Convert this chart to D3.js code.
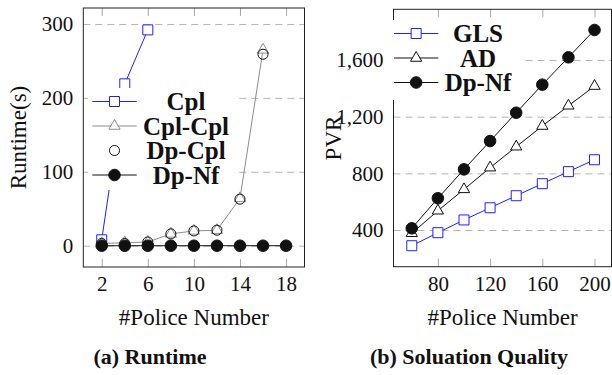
<!DOCTYPE html>
<html>
<head>
<meta charset="utf-8">
<script src="https://cdn.jsdelivr.net/npm/d3@7"></script>
<style>
  body { margin: 0; background: #fff; }
  svg { display: block; font-family: 'Liberation Serif', 'DejaVu Serif', serif; }
  .axis { font-family: 'Liberation Serif', 'DejaVu Serif', serif; }
  .axis .domain { display: none; }
  .axis text { font-size: 21px; fill: #111; }
  .axis-x line { stroke: #a8a8a8; }
  .axis-y line { stroke: #b4b4b4; stroke-dasharray: 7,5; }
  .label { font-size: 23px; fill: #111; }
  .caption { font-size: 22px; font-weight: bold; fill: #111; }
  .legend text { font-size: 25px; font-weight: bold; fill: #111; }
</style>
</head>
<body>
<svg id="chart" width="612" height="375"></svg>
<script>
// (a) runtime, seconds
const policeA = [2, 4, 6, 8, 10, 12, 14, 16, 18];
const cpl = [8, 219, 292];
const cplCpl = [3, 4, 5, 16, 20, 21, 64, 265];
const dpCpl = [3, 3, 5, 16, 20, 21, 63, 259];
const dpNfA = [0, 0, 0, 0, 0, 0, 0, 0, 0];
const xTicksA = [2, 6, 10, 14, 18];
const yTicksA = [0, 100, 200, 300];

// (b) solution quality, PVR
const policeB = [60, 80, 100, 120, 140, 160, 180, 200];
const gls = [289, 381, 471, 557, 642, 727, 812, 896];
const ad = [377, 536, 687, 840, 988, 1134, 1277, 1416];
const dpNfB = [412, 624, 828, 1028, 1228, 1426, 1619, 1812];
const xTicksB = [80, 120, 160, 200];
const yTicksB = [400, 800, 1200, 1600];

const BLUE = '#2020ff';
const GRAY = '#8c8c8c';
const INK = '#111';

const styles = {
  cpl: { stroke: BLUE, line: BLUE, symbol: d3.symbolSquare, size: 100, fill: '#fff' },
  cplCpl: { stroke: GRAY, line: GRAY, symbol: d3.symbolTriangle, size: 55, fill: '#fff' },
  dpCpl: { stroke: INK, line: null, symbol: d3.symbolCircle, size: 80, fill: 'none' },
  dpNf: { stroke: INK, line: INK, symbol: d3.symbolCircle, size: 105, fill: INK },
  ad: { stroke: INK, line: INK, symbol: d3.symbolTriangle, size: 55, fill: '#fff' }
};

const svg = d3.select('#chart');

function drawSeries(g, scales, xs, ys, st) {
  const pts = ys.map((v, i) => [scales.x(xs[i]), scales.y(v)]);
  if (st.line) {
    g.append('path')
      .attr('d', d3.line()(pts))
      .attr('fill', 'none')
      .attr('stroke', st.line)
      .attr('stroke-width', 1);
  }
  g.selectAll(null)
    .data(pts)
    .join('path')
    .attr('transform', d => `translate(${d[0]},${d[1]})`)
    .attr('d', d3.symbol(st.symbol, st.size))
    .attr('fill', st.fill)
    .attr('stroke', st.stroke)
    .attr('stroke-width', 1);
}

function drawPanel(cfg) {
  const g = svg.append('g');
  const x = d3.scaleLinear().domain(cfg.xDomain).range(cfg.xRange);
  const y = d3.scaleLinear().domain(cfg.yDomain).range(cfg.yRange);
  const [x0, x1] = cfg.xRange;
  const [yb, yt] = cfg.yRange;

  g.append('g')
    .attr('class', 'axis axis-y')
    .attr('transform', `translate(${x0},0)`)
    .call(d3.axisLeft(y).tickValues(cfg.yTicks).tickSize(-(x1 - x0)).tickPadding(10).tickFormat(d3.format(',')));

  g.append('g')
    .attr('class', 'axis axis-x')
    .attr('transform', `translate(0,${yb})`)
    .call(d3.axisBottom(x).tickValues(cfg.xTicks).tickSize(-8).tickPadding(9));

  g.append('g')
    .attr('class', 'axis axis-x')
    .attr('transform', `translate(0,${yt})`)
    .call(d3.axisTop(x).tickValues(cfg.xTicks).tickSize(-8).tickFormat(''));

  const scales = { x, y };
  cfg.series.forEach(s => drawSeries(g, scales, s.xs, s.ys, s.style));

  g.append('rect')
    .attr('x', x0).attr('y', yt)
    .attr('width', x1 - x0).attr('height', yb - yt)
    .attr('fill', 'none').attr('stroke', '#222').attr('stroke-width', 1);

  // legend, white box on top of the plot
  const lg = cfg.legend;
  const leg = g.append('g').attr('class', 'legend');
  leg.append('rect')
    .attr('x', lg.box[0]).attr('y', lg.box[1])
    .attr('width', lg.box[2]).attr('height', lg.box[3])
    .attr('fill', '#fff');
  cfg.series.forEach((s, i) => {
    const ry = lg.top + i * lg.step;
    const mid = (lg.lineX[0] + lg.lineX[1]) / 2;
    if (s.style.line) {
      leg.append('line')
        .attr('x1', lg.lineX[0]).attr('x2', lg.lineX[1])
        .attr('y1', ry).attr('y2', ry)
        .attr('stroke', s.style.line);
    }
    leg.append('path')
      .attr('transform', `translate(${mid},${ry})`)
      .attr('d', d3.symbol(s.style.symbol, s.style.size))
      .attr('fill', s.style.fill)
      .attr('stroke', s.style.stroke);
    leg.append('text')
      .attr('x', lg.textX).attr('y', ry)
      .attr('dy', '0.35em')
      .attr('text-anchor', 'middle')
      .text(s.name);
  });

  g.append('text')
    .attr('class', 'label')
    .attr('x', (x0 + x1) / 2).attr('y', 325)
    .attr('text-anchor', 'middle')
    .text('#Police Number');

  g.append('text')
    .attr('class', 'label')
    .attr('transform', `translate(${cfg.yLabelX},${(yb + yt) / 2}) rotate(-90)`)
    .attr('text-anchor', 'middle')
    .text(cfg.yLabel);

  g.append('text')
    .attr('class', 'caption')
    .attr('x', cfg.captionX).attr('y', 364)
    .attr('text-anchor', 'middle')
    .text(cfg.caption);
}

drawPanel({
  xDomain: [0.4, 19.6], xRange: [83.3, 304.5],
  yDomain: [-28.8, 321.6], yRange: [267, 8],
  xTicks: xTicksA, yTicks: yTicksA,
  yLabel: 'Runtime(s)', yLabelX: 26,
  caption: '(a) Runtime', captionX: 150,
  series: [
    { name: 'Cpl', xs: policeA, ys: cpl, style: styles.cpl },
    { name: 'Cpl-Cpl', xs: policeA, ys: cplCpl, style: styles.cplCpl },
    { name: 'Dp-Cpl', xs: policeA, ys: dpCpl, style: styles.dpCpl },
    { name: 'Dp-Nf', xs: policeA, ys: dpNfA, style: styles.dpNf }
  ],
  legend: { box: [88, 88, 146, 102], top: 101.5, step: 24.5, lineX: [92.3, 136.7], textX: 186 }
});

drawPanel({
  xDomain: [46, 213], xRange: [393.5, 611.5],
  yDomain: [141, 1958], yRange: [266.7, 9.3],
  xTicks: xTicksB, yTicks: yTicksB,
  yLabel: 'PVR', yLabelX: 341,
  caption: '(b) Soluation Quality', captionX: 469,
  series: [
    { name: 'GLS', xs: policeB, ys: gls, style: styles.cpl },
    { name: 'AD', xs: policeB, ys: ad, style: styles.ad },
    { name: 'Dp-Nf', xs: policeB, ys: dpNfB, style: styles.dpNf }
  ],
  legend: { box: [390, 20, 133, 80], top: 33.5, step: 24.5, lineX: [394, 438.3], textX: 478 }
});
</script>
</body>
</html>
